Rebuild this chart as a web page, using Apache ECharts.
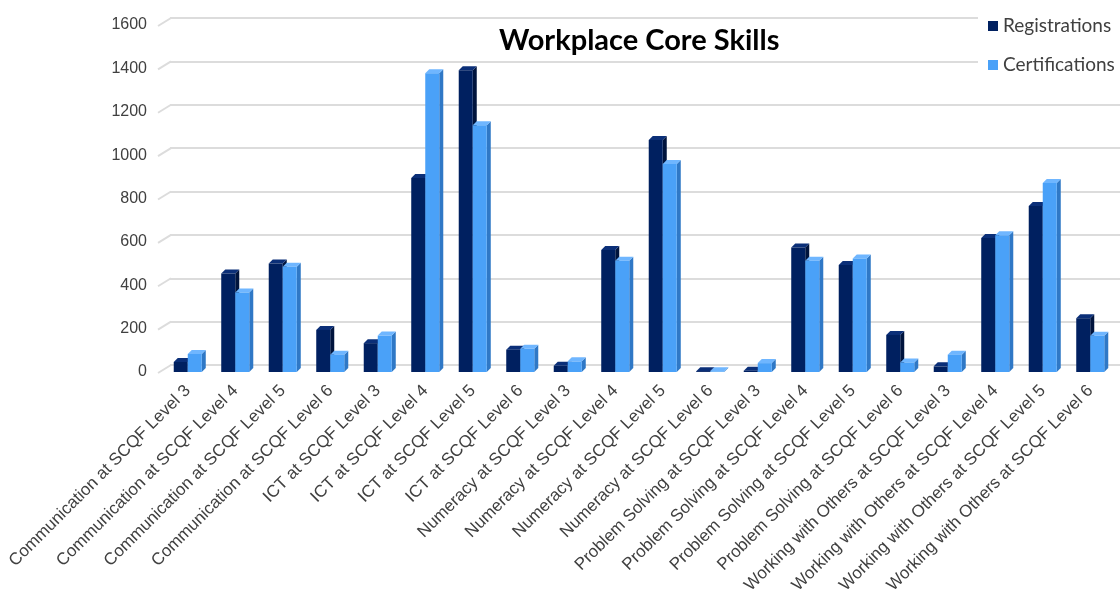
<!DOCTYPE html>
<html><head><meta charset="utf-8">
<script src="https://cdn.jsdelivr.net/npm/echarts@6/dist/echarts.min.js"></script>
<style>html,body{margin:0;padding:0;background:#fff}#c{width:1120px;height:589px}</style>
</head><body><div id="c"></div>
<script>
const categories = [
  "Communication at SCQF Level 3","Communication at SCQF Level 4","Communication at SCQF Level 5","Communication at SCQF Level 6",
  "ICT at SCQF Level 3","ICT at SCQF Level 4","ICT at SCQF Level 5","ICT at SCQF Level 6",
  "Numeracy at SCQF Level 3","Numeracy at SCQF Level 4","Numeracy at SCQF Level 5","Numeracy at SCQF Level 6",
  "Problem Solving at SCQF Level 3","Problem Solving at SCQF Level 4","Problem Solving at SCQF Level 5","Problem Solving at SCQF Level 6",
  "Working with Others at SCQF Level 3","Working with Others at SCQF Level 4","Working with Others at SCQF Level 5","Working with Others at SCQF Level 6"
];
const registrations = [46, 454, 500, 194, 133, 895, 1391, 103, 29, 562, 1070, 4, 6, 574, 493, 171, 26, 618, 765, 248];
const certifications = [83, 367, 485, 80, 168, 1377, 1138, 107, 49, 513, 959, 3, 41, 513, 523, 44, 80, 630, 871, 167];
const yTicks = [0, 200, 400, 600, 800, 1000, 1200, 1400, 1600];

const DX = 4, DY = -4;
function barRenderer(side, front, top, sideCol) {
  return function (params, api) {
    const i = api.value(0), v = api.value(1);
    const t = api.coord([i, v]);
    const b = api.coord([i, 0]);
    const w = api.size([1, 0])[0] * 0.295;
    const x0 = side < 0 ? t[0] - w : t[0];
    const x1 = x0 + w;
    const yt = t[1], yb = b[1];
    return {
      type: 'group',
      children: [
        { type: 'polygon', shape: { points: [[x1, yt], [x1 + DX, yt + DY], [x1 + DX, yb + DY], [x1, yb]] }, style: { fill: sideCol } },
        { type: 'polygon', shape: { points: [[x0, yt], [x1, yt], [x1 + DX, yt + DY], [x0 + DX, yt + DY]] }, style: { fill: top } },
        { type: 'rect', shape: { x: x0, y: yt, width: w, height: yb - yt }, style: { fill: front } }
      ]
    };
  };
}

const chart = echarts.init(document.getElementById('c'));
chart.setOption({
  animation: false,
  backgroundColor: '#fff',
  title: {
    text: 'Workplace Core Skills', left: 494, top: 21,
    textStyle: { fontSize: 29, fontWeight: 'bold', fontFamily: 'Lato', color: '#000' }
  },
  legend: {
    orient: 'vertical', left: 978, top: 9, padding: [6, 10, 8, 10],
    backgroundColor: '#fff', itemWidth: 10, itemHeight: 10, itemGap: 17, itemTextGap: 5,
    icon: 'rect',
    textStyle: { fontSize: 19, fontFamily: 'Lato', color: '#404040', lineHeight: 22 },
    data: ['Registrations', 'Certifications']
  },
  grid: [
    { left: 164, right: 6, top: 25, bottom: 217, outerBoundsMode: 'none', containLabel: false },
    { left: 170, right: 0, top: 18, bottom: 224, outerBoundsMode: 'none', containLabel: false }
  ],
  xAxis: [
    {
      type: 'category', gridIndex: 0, data: categories,
      axisLine: { show: false }, axisTick: { show: false },
      axisLabel: { interval: 0, rotate: 45, margin: 16, fontSize: 17, fontFamily: 'Liberation Sans', color: '#404040' }
    },
    { type: 'value', gridIndex: 1, min: 0, max: 1, show: false }
  ],
  yAxis: [
    {
      type: 'value', gridIndex: 0, min: 0, max: 1600, interval: 200,
      axisLine: { show: false }, axisTick: { show: false }, splitLine: { show: false },
      axisLabel: { margin: 17, fontSize: 16, fontFamily: 'Liberation Sans', color: '#404040', formatter: v => String(v) }
    },
    {
      type: 'value', gridIndex: 1, min: 0, max: 1600, interval: 200,
      axisLine: { show: false }, axisTick: { show: false }, axisLabel: { show: false },
      splitLine: { show: true, lineStyle: { color: '#dcdcdc', width: 2 } }
    }
  ],
  series: [
    {
      type: 'custom', name: 'walls', xAxisIndex: 1, yAxisIndex: 1, silent: true,
      data: yTicks.map(v => [0, v]),
      renderItem: function (params, api) {
        const p = api.coord([0, api.value(1)]);
        return { type: 'line', shape: { x1: p[0] - 12, y1: p[1] + 8, x2: p[0] + 1, y2: p[1] }, style: { stroke: '#dcdcdc', lineWidth: 2 } };
      }
    },
    {
      type: 'custom', name: 'Registrations', xAxisIndex: 0, yAxisIndex: 0,
      itemStyle: { color: '#002060' },
      data: registrations.map((v, i) => [i, v]), encode: { x: 0, y: 1 },
      renderItem: barRenderer(-1, '#002060', '#0b2f78', '#00143d')
    },
    {
      type: 'custom', name: 'Certifications', xAxisIndex: 0, yAxisIndex: 0,
      itemStyle: { color: '#4aa1f8' },
      data: certifications.map((v, i) => [i, v]), encode: { x: 0, y: 1 },
      renderItem: barRenderer(1, '#4aa1f8', '#6fb6ff', '#2f78c6')
    }
  ]
});
</script></body></html>
